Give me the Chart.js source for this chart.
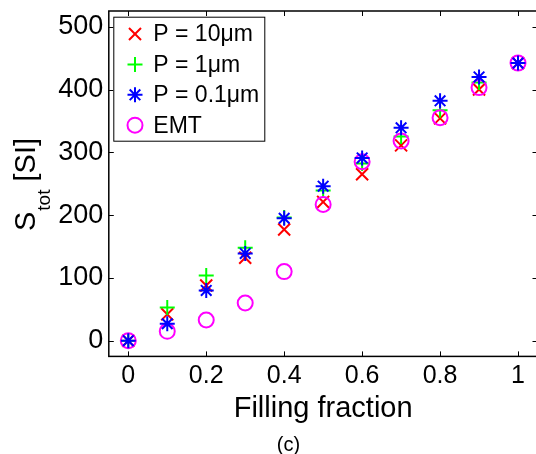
<!DOCTYPE html>
<html>
<head>
<meta charset="utf-8">
<title>S_tot vs filling fraction</title>
<script src="https://cdn.jsdelivr.net/npm/chart.js@4/dist/chart.umd.min.js"></script>
<style>
  html, body { margin: 0; padding: 0; background: #fff; overflow: hidden; }
  #wrap { position: relative; width: 548px; height: 454px; }
</style>
</head>
<body>
<div id="wrap"><canvas id="fillChart" width="548" height="454"></canvas></div>
<script>
'use strict';

const FONT = '"Liberation Sans", Arial, Helvetica, sans-serif';

// filling fraction and S_tot [SI] for each period / the EMT estimate
const fractions = [0, 0.1, 0.2, 0.3, 0.4, 0.5, 0.6, 0.7, 0.8, 0.9, 1.0];
const sP10um  = [0, 42, 88, 132, 177, 221, 265, 311, 354, 400, 442];
const sP1um   = [0, 53, 104, 148, 196, 239, 282, 325, 367, 411, 442];
const sP01um  = [0, 27, 80, 139, 195, 246, 291, 339, 382, 420, 442];
const sEMT    = [0, 15, 33, 60, 110, 217, 285, 318, 355, 403, 442];

const xTicks = [0, 0.2, 0.4, 0.6, 0.8, 1];
const xTickLabels = ['0', '0.2', '0.4', '0.6', '0.8', '1'];
const yTicks = [0, 100, 200, 300, 400, 500];
const yTickLabels = ['0', '100', '200', '300', '400', '500'];

function points(values) {
  return fractions.map((f, i) => ({ x: f, y: values[i] }));
}

function series(label, values, color, style, radius, order) {
  return {
    label,
    data: points(values),
    showLine: false,
    pointStyle: style,
    pointRadius: radius,
    pointHoverRadius: radius,
    pointBorderWidth: 2,
    pointBorderColor: color,
    pointBackgroundColor: 'rgba(0,0,0,0)',
    borderColor: color,
    backgroundColor: 'rgba(0,0,0,0)',
    order,
  };
}

// box round the plot with inward ticks on all four sides
const framePlugin = {
  id: 'frame',
  beforeDatasetsDraw(chart) {
    const { ctx, chartArea: a, scales: { x, y } } = chart;
    ctx.save();
    ctx.strokeStyle = '#000';
    ctx.lineWidth = 1.5;
    ctx.strokeRect(a.left, a.top, a.right - a.left, a.bottom - a.top);
    ctx.lineWidth = 1;
    ctx.beginPath();
    xTicks.forEach(v => {
      const px = Math.round(x.getPixelForValue(v)) + 0.5;
      ctx.moveTo(px, a.bottom); ctx.lineTo(px, a.bottom - 5);
      ctx.moveTo(px, a.top); ctx.lineTo(px, a.top + 5);
    });
    yTicks.forEach(v => {
      const py = Math.round(y.getPixelForValue(v)) + 0.5;
      ctx.moveTo(a.left, py); ctx.lineTo(a.left + 5, py);
      ctx.moveTo(a.right, py); ctx.lineTo(a.right - 5, py);
    });
    ctx.stroke();
    ctx.restore();
  },
};

// boxed legend in the upper left corner of the plot
const legendBoxPlugin = {
  id: 'legendBox',
  afterDatasetsDraw(chart) {
    const { ctx, chartArea: a } = chart;
    const left = a.left + 4.5, top = a.top + 5.7, w = 151, h = 124;
    ctx.save();
    ctx.fillStyle = '#fff';
    ctx.fillRect(left, top, w, h);
    ctx.strokeStyle = '#000';
    ctx.lineWidth = 1;
    ctx.strokeRect(left + 0.5, top + 0.5, w, h);
    chart.data.datasets.forEach((ds, i) => {
      const cy = top + 17.3 + i * 30.4;
      ctx.strokeStyle = ds.pointBorderColor;
      ctx.fillStyle = 'rgba(0,0,0,0)';
      ctx.lineWidth = ds.pointBorderWidth;
      Chart.helpers.drawPoint(ctx, {
        pointStyle: ds.pointStyle, radius: ds.pointRadius,
        borderWidth: ds.pointBorderWidth, rotation: 0,
      }, left + 21.7, cy);
      ctx.fillStyle = '#000';
      ctx.font = '23px ' + FONT;
      ctx.textBaseline = 'middle';
      ctx.textAlign = 'left';
      ctx.fillText(ds.label, left + 40, cy + 1);
    });
    ctx.restore();
  },
};

// y axis title with subscript, and the panel caption
const textPlugin = {
  id: 'extraText',
  afterDraw(chart) {
    const { ctx } = chart;
    ctx.save();
    ctx.fillStyle = '#000';
    ctx.textBaseline = 'alphabetic';
    ctx.textAlign = 'left';
    ctx.translate(35, 231);
    ctx.rotate(-Math.PI / 2);
    ctx.font = '29px ' + FONT;
    ctx.fillText('S', 0, 0);
    let cx = ctx.measureText('S').width + 1;
    ctx.font = '19px ' + FONT;
    ctx.fillText('tot', cx, 15);
    cx += ctx.measureText('tot').width;
    ctx.font = '29px ' + FONT;
    ctx.fillText(' [SI]', cx, 0);
    ctx.restore();

    ctx.save();
    ctx.fillStyle = '#000';
    ctx.font = '20px ' + FONT;
    ctx.textAlign = 'center';
    ctx.textBaseline = 'alphabetic';
    ctx.fillText('(c)', 288.5, 451);
    ctx.restore();
  },
};

function noPadding(s) {
  s.paddingTop = 0; s.paddingBottom = 0; s.paddingLeft = 0; s.paddingRight = 0;
}

const ctx = document.getElementById('fillChart').getContext('2d');
const chart = new Chart(ctx, {
  type: 'scatter',
  data: {
    datasets: [
      series('P = 10μm', sP10um, '#ff0000', 'crossRot', 8.5, 3),
      series('P = 1μm', sP1um, '#00ff00', 'cross', 7.5, 2),
      series('P = 0.1μm', sP01um, '#0000ff', 'star', 7.5, 0),
      series('EMT', sEMT, '#ff00ff', 'circle', 7.5, 1),
    ],
  },
  options: {
    responsive: false,
    animation: false,
    devicePixelRatio: 1,
    layout: { padding: { top: 11, right: 2, left: 0, bottom: 0 } },
    plugins: {
      legend: { display: false },
      tooltip: { enabled: false },
    },
    scales: {
      x: {
        type: 'linear',
        min: -0.05,
        max: 1.05,
        afterBuildTicks: s => { s.ticks = xTicks.map(v => ({ value: v })); },
        afterFit: s => { s.height = 97.6; noPadding(s); },
        grid: { display: false, drawTicks: false },
        border: { display: false },
        ticks: {
          padding: 7,
          color: '#000',
          maxRotation: 0,
          autoSkip: false,
          font: { family: FONT, size: 25, lineHeight: 1 },
          callback: (v, i) => xTickLabels[i],
        },
        title: {
          display: true,
          text: 'Filling fraction',
          color: '#000',
          font: { family: FONT, size: 29, lineHeight: 1 },
          padding: { top: 0, bottom: 31 },
        },
      },
      y: {
        type: 'linear',
        min: -25,
        max: 525,
        afterBuildTicks: s => { s.ticks = yTicks.map(v => ({ value: v })); },
        afterFit: s => { s.width = 108.8; noPadding(s); },
        grid: { display: false, drawTicks: false },
        border: { display: false },
        ticks: {
          padding: 5.5,
          color: '#000',
          autoSkip: false,
          font: { family: FONT, size: 27, lineHeight: 1 },
          callback: (v, i) => yTickLabels[i],
        },
      },
    },
  },
  plugins: [framePlugin, legendBoxPlugin, textPlugin],
});
</script>
</body>
</html>
